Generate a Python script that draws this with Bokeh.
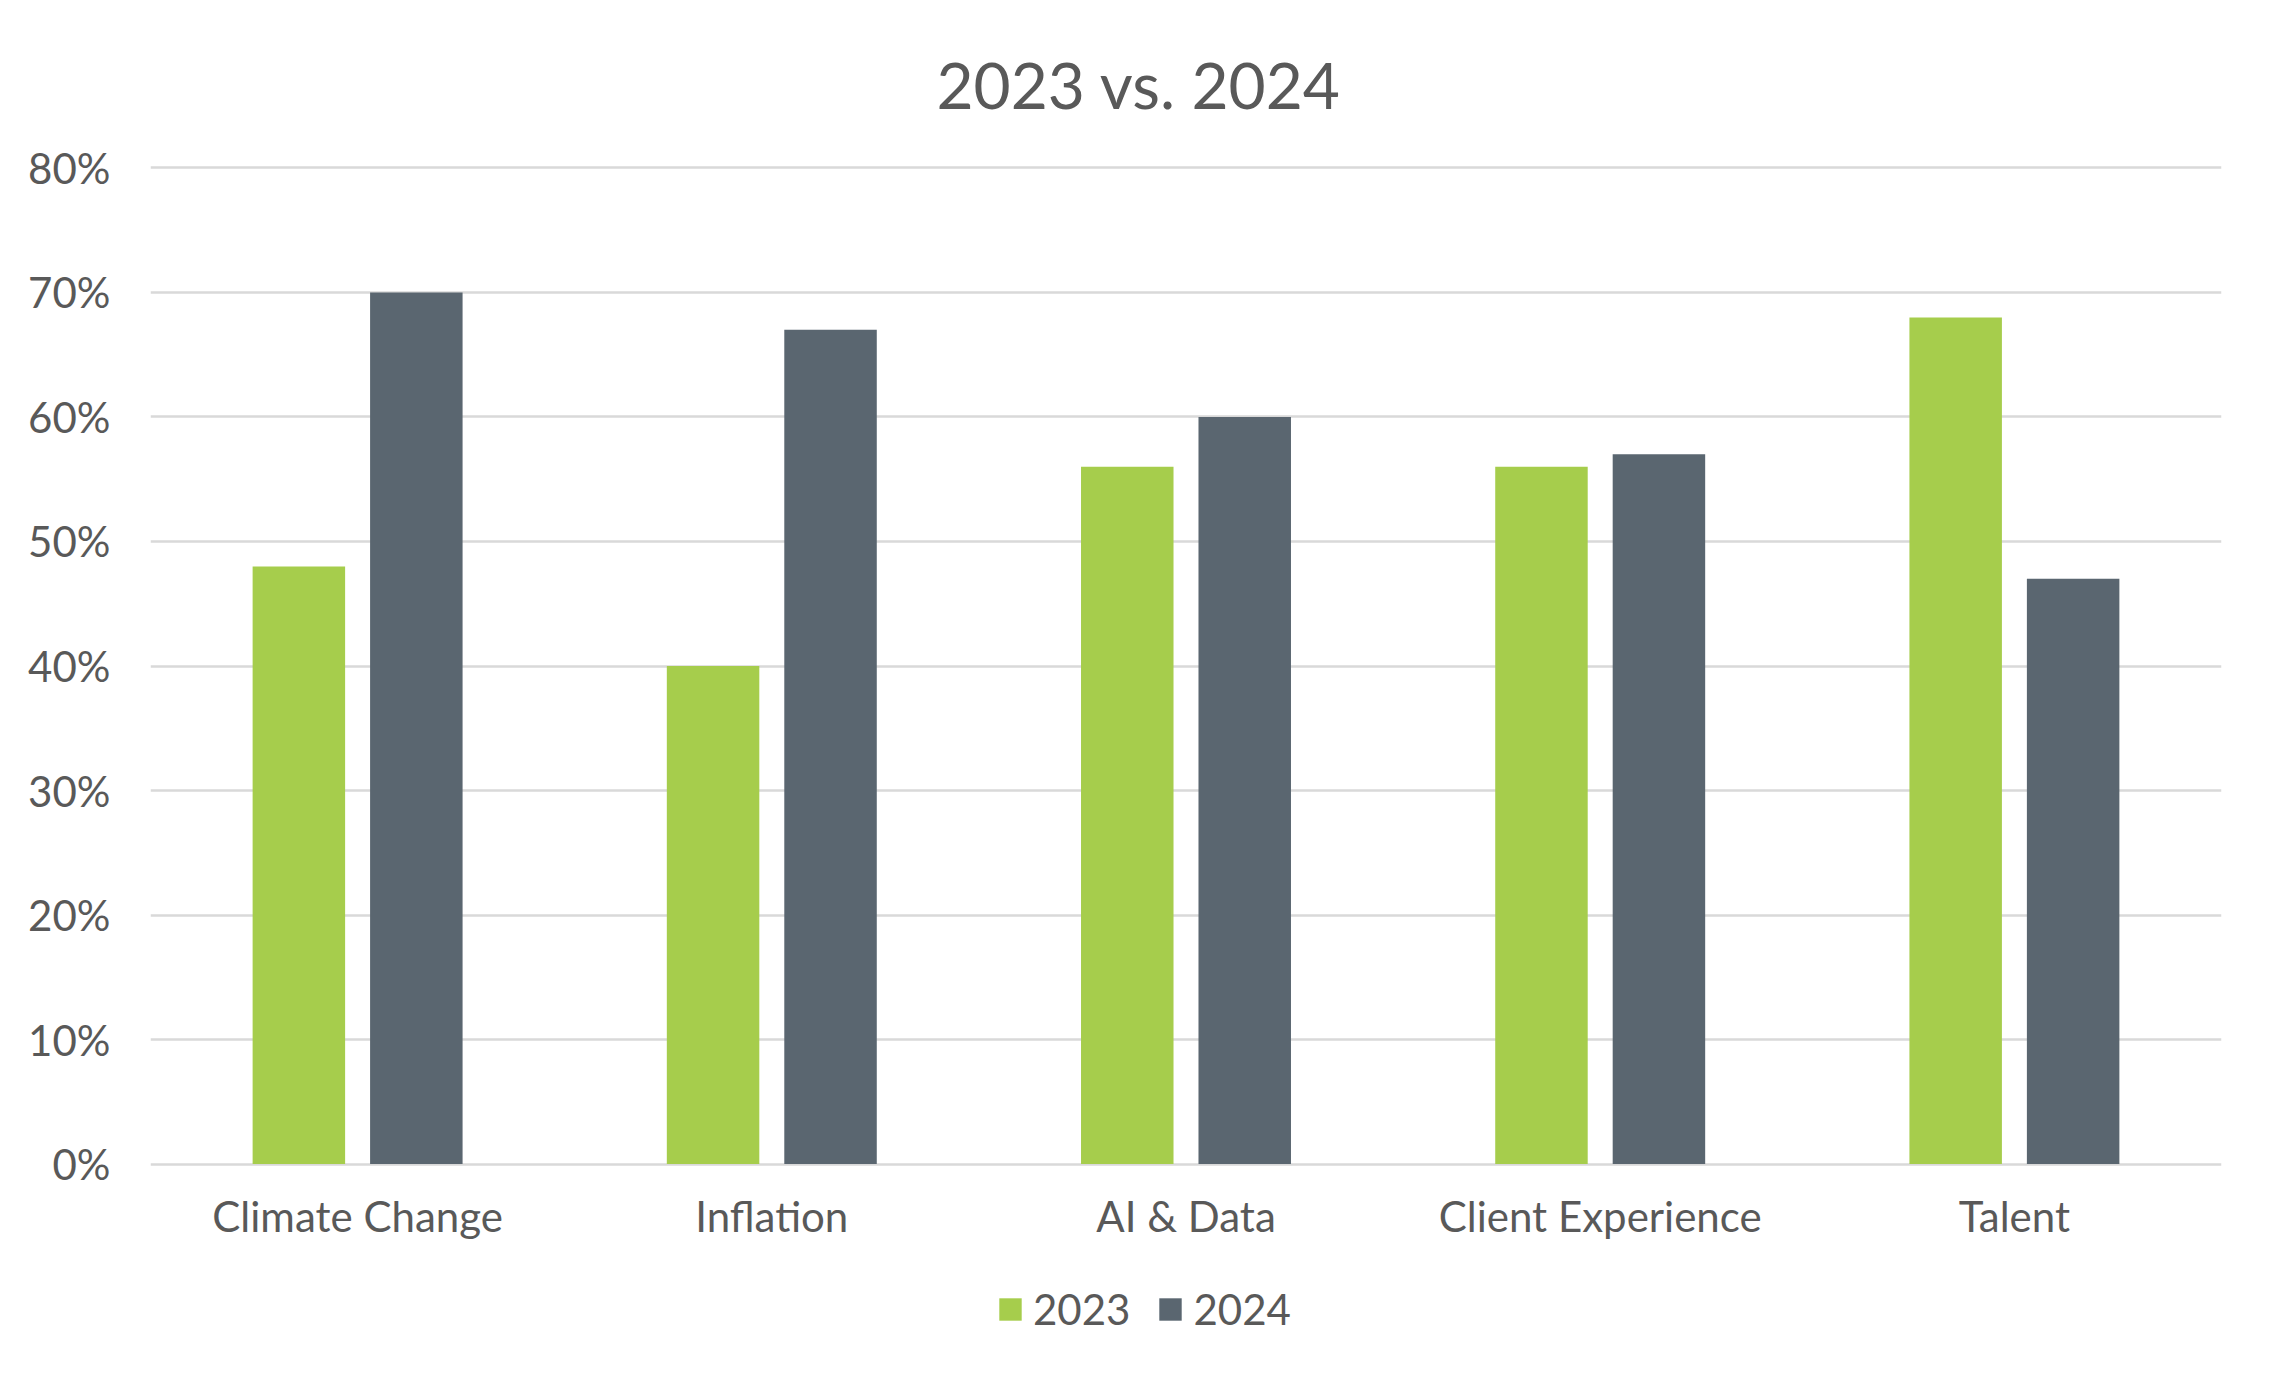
from bokeh.plotting import figure
from bokeh.layouts import column
from bokeh.models import (ColumnDataSource, FactorRange, Range1d, NumeralTickFormatter,
                          Legend, LegendItem, FixedTicker)
from bokeh.transform import dodge
from bokeh.embed import file_html
from bokeh.resources import INLINE

categories = ["Climate Change", "Inflation", "AI & Data", "Client Experience", "Talent"]
values_2023 = [0.48, 0.40, 0.56, 0.56, 0.68]
values_2024 = [0.70, 0.67, 0.60, 0.57, 0.47]
y_ticks = [0.0, 0.1, 0.2, 0.3, 0.4, 0.5, 0.6, 0.7, 0.8]
title_text = "2023 vs. 2024"
series_labels = ["2023", "2024"]

GREEN = "#A6CD4C"
GRAY = "#5A6670"
TEXT = "#595959"
GRID = "#D9D9D9"
FONT = "Lato"

src = ColumnDataSource(data=dict(cat=categories, y2023=values_2023, y2024=values_2024))

p = figure(width=2256, height=1250, x_range=FactorRange(factors=categories),
           y_range=Range1d(-0.002, 0.802), output_backend="svg", toolbar_location=None,
           min_border_left=150, min_border_right=35, min_border_top=165, min_border_bottom=84)

p.outline_line_color = None
p.background_fill_color = "white"
p.border_fill_color = "white"

r1 = p.vbar(x=dodge("cat", -0.1418, range=p.x_range), top="y2023", bottom=0, width=0.2233,
            source=src, fill_color=GREEN, line_color=None)
r2 = p.vbar(x=dodge("cat", 0.1418, range=p.x_range), top="y2024", bottom=0, width=0.2233,
            source=src, fill_color=GRAY, line_color=None)

# grid
p.xgrid.grid_line_color = None
p.ygrid.grid_line_color = GRID
p.ygrid.grid_line_width = 2.5
p.ygrid.ticker = FixedTicker(ticks=y_ticks)

# y axis
p.yaxis.ticker = FixedTicker(ticks=y_ticks)
p.yaxis.formatter = NumeralTickFormatter(format="0%")
p.yaxis.axis_line_color = None
p.yaxis.major_tick_line_color = None
p.yaxis.minor_tick_line_color = None
p.yaxis.major_tick_out = 0
p.yaxis.major_label_standoff = 40
p.yaxis.major_label_text_font = FONT
p.yaxis.major_label_text_font_size = "42px"
p.yaxis.major_label_text_color = TEXT

# x axis
p.xaxis.axis_line_color = None
p.xaxis.major_tick_line_color = None
p.xaxis.minor_tick_line_color = None
p.xaxis.major_tick_out = 0
p.xaxis.major_label_standoff = 24
p.xaxis.major_label_text_font = FONT
p.xaxis.major_label_text_font_size = "42px"
p.xaxis.major_label_text_color = TEXT

# title
p.title.text = title_text
p.title.align = "left"
p.title.offset = 786
p.title.standoff = 85
p.title.text_font = FONT
p.title.text_font_size = "64px"
p.title.text_font_style = "normal"
p.title.text_color = TEXT

# legend strip below the chart
lg = figure(width=2256, height=109, x_range=Range1d(0, 1), y_range=Range1d(0, 1),
            output_backend="svg", toolbar_location=None,
            x_axis_location=None, y_axis_location=None,
            min_border_left=0, min_border_right=0, min_border_top=0, min_border_bottom=0)
lg.outline_line_color = None
lg.xgrid.grid_line_color = None
lg.ygrid.grid_line_color = None
lg.border_fill_color = "white"
lr1 = lg.vbar(x=[-5], top=[0], width=0.1, fill_color=GREEN, line_color=None)
lr2 = lg.vbar(x=[-5], top=[0], width=0.1, fill_color=GRAY, line_color=None)

legend = Legend(items=[LegendItem(label=series_labels[0], renderers=[lr1]),
                       LegendItem(label=series_labels[1], renderers=[lr2])],
                orientation="horizontal", location=(846, 25),
                glyph_width=28, glyph_height=28, label_standoff=9, spacing=26,
                label_text_font=FONT, label_text_font_size="42px", label_text_color=TEXT,
                border_line_color=None, background_fill_alpha=0, padding=0, margin=0)
lg.add_layout(legend)

layout = column(p, lg, spacing=0)
open("out.html", "w").write(file_html(layout, INLINE))
